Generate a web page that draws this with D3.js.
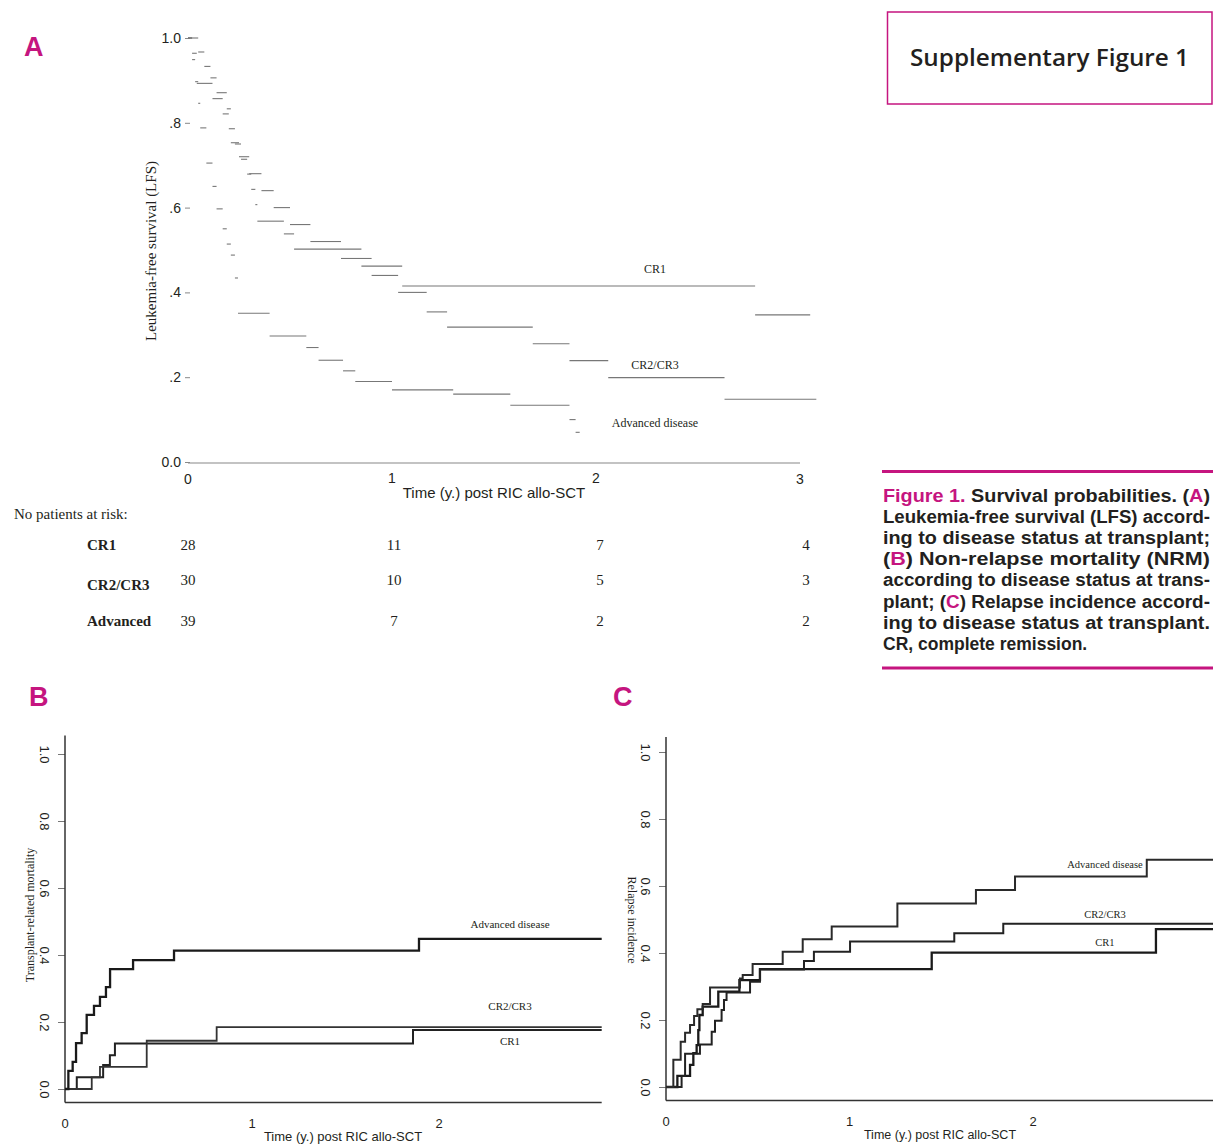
<!DOCTYPE html>
<html>
<head>
<meta charset="utf-8">
<script src="https://cdn.jsdelivr.net/npm/d3@7/dist/d3.min.js"></script>
<style>
  body { margin: 0; background: #fff; }
</style>
</head>
<body>
<div id="fig"></div>
<script>
// groups and axis ticks
var groups = ["CR1", "CR2/CR3", "Advanced"];
var timeTicks = [0, 1, 2, 3];
var lfsTicks = [0, 0.2, 0.4, 0.6, 0.8, 1.0];
var lfsTickLabels = ["0.0", ".2", ".4", ".6", ".8", "1.0"];
var probTicks = [0, 0.2, 0.4, 0.6, 0.8, 1.0];
var probTickLabels = ["0.0", "0.2", "0.4", "0.6", "0.8", "1.0"];

// patients at risk at 0,1,2,3 years
var atRiskCR1 = [28, 11, 7, 4];
var atRiskCR2 = [30, 10, 5, 3];
var atRiskAdv = [39, 7, 2, 2];

// A: leukemia-free survival, [time, value] at each step
var lfsCR1 = [[0,1],[0.02,0.964],[0.043,0.893],[0.12,0.857],[0.17,0.821],[0.2,0.786],[0.23,0.75],[0.26,0.714],
  [0.29,0.679],[0.31,0.643],[0.33,0.607],[0.34,0.568],[0.47,0.538],[0.52,0.502],[0.85,0.462],[1.05,0.415],[2.78,0.347]];
var lfsCR2 = [[0,1],[0.05,0.967],[0.08,0.933],[0.11,0.906],[0.14,0.871],[0.19,0.833],[0.21,0.753],[0.25,0.72],
  [0.3,0.68],[0.36,0.64],[0.42,0.6],[0.5,0.56],[0.6,0.52],[0.75,0.48],[0.9,0.44],[1.03,0.40],[1.17,0.354],
  [1.27,0.318],[1.69,0.279],[1.87,0.239],[2.06,0.199],[2.63,0.148]];
var lfsAdv = [[0,1],[0.02,0.949],[0.035,0.897],[0.05,0.846],[0.06,0.788],[0.09,0.705],[0.12,0.65],[0.14,0.597],
  [0.17,0.55],[0.19,0.514],[0.21,0.488],[0.23,0.434],[0.245,0.351],[0.40,0.297],[0.58,0.27],[0.64,0.24],
  [0.76,0.215],[0.82,0.19],[1.0,0.17],[1.3,0.16],[1.58,0.134],[1.87,0.10],[1.9,0.07]];
var lfsEnd = [3.05, 3.08, 1.92];

// B: non-relapse (transplant-related) mortality
var nrmCR1 = [[0,0],[0.063,0.035],[0.204,0.072],[0.24,0.101],[0.267,0.136],[1.861,0.176]];
var nrmCR2 = [[0,0],[0.143,0.035],[0.187,0.066],[0.437,0.144],[0.811,0.185]];
var nrmAdv = [[0,0],[0.018,0.054],[0.041,0.081],[0.059,0.137],[0.089,0.167],[0.116,0.221],[0.155,0.248],
  [0.187,0.275],[0.219,0.304],[0.241,0.358],[0.364,0.385],[0.583,0.413],[1.893,0.448]];
var nrmEnd = 2.87;

// C: relapse incidence
var relCR1 = [[0,0],[0.062,0.033],[0.131,0.066],[0.149,0.101],[0.167,0.125],[0.176,0.170],[0.182,0.215],
  [0.200,0.240],[0.285,0.285],[0.400,0.319],[0.512,0.352],[1.448,0.401],[2.67,0.471]];
var relCR2 = [[0,0],[0.085,0.033],[0.104,0.099],[0.185,0.127],[0.249,0.165],[0.267,0.198],[0.303,0.230],
  [0.316,0.260],[0.330,0.282],[0.458,0.314],[0.512,0.351],[0.752,0.376],[0.806,0.404],[1.003,0.434],
  [1.571,0.459],[1.838,0.487]];
var relAdv = [[0,0],[0.040,0.081],[0.080,0.135],[0.104,0.162],[0.131,0.185],[0.153,0.212],[0.171,0.232],
  [0.200,0.248],[0.240,0.297],[0.403,0.324],[0.418,0.334],[0.472,0.367],[0.636,0.404],[0.745,0.441],
  [0.903,0.479],[1.261,0.548],[1.689,0.588],[1.902,0.628],[2.62,0.678]];
var relEnd = 3.0;

var captionLines = [
  [["Figure 1.", 1], [" Survival probabilities. (", 0], ["A", 1], [")", 0]],
  [["Leukemia-free survival (LFS) accord-", 0]],
  [["ing to disease status at transplant;", 0]],
  [["(", 0], ["B", 1], [") Non-relapse mortality (NRM)", 0]],
  [["according to disease status at trans-", 0]],
  [["plant; (", 0], ["C", 1], [") Relapse incidence accord-", 0]],
  [["ing to disease status at transplant.", 0]],
  [["CR, complete remission.", 0]]
];

var magenta = "#c5157f";
var ink = "#231f20";
var serif = "'Liberation Serif', 'DejaVu Serif', serif";
var sans = "'Liberation Sans', Arial, sans-serif";
var caps = "'Open Sans', 'Liberation Sans', sans-serif";

var svg = d3.select("#fig").append("svg")
  .attr("width", 1213)
  .attr("height", 1146)
  .style("display", "block");

// ---------- panel letters ----------
[["A", 24, 56], ["B", 29, 706], ["C", 613, 706]].forEach(function(p) {
  svg.append("text").attr("x", p[1]).attr("y", p[2])
    .attr("font-family", sans).attr("font-weight", "bold").attr("font-size", 27)
    .attr("fill", magenta).text(p[0]);
});

// ---------- title box ----------
svg.append("rect").attr("x", 887.5).attr("y", 12).attr("width", 324.5).attr("height", 92)
  .attr("fill", "none").attr("stroke", magenta).attr("stroke-width", 1.5);
svg.append("text").attr("x", 910).attr("y", 66)
  .attr("textLength", 279).attr("lengthAdjust", "spacingAndGlyphs")
  .attr("font-family", caps).attr("font-weight", 600).attr("font-size", 24)
  .attr("fill", ink).text("Supplementary Figure 1");

// ---------- caption ----------
svg.append("rect").attr("x", 882).attr("y", 470).attr("width", 331).attr("height", 3).attr("fill", magenta);
svg.append("rect").attr("x", 882).attr("y", 666.5).attr("width", 331).attr("height", 3).attr("fill", magenta);
captionLines.forEach(function(line, i) {
  var t = svg.append("text").attr("x", 883).attr("y", 502 + i * 21.1)
    .attr("font-family", sans).attr("font-weight", "bold").attr("font-size", 17.5).attr("fill", ink);
  if (i < captionLines.length - 1) {
    t.attr("textLength", 327).attr("lengthAdjust", "spacingAndGlyphs");
  }
  line.forEach(function(part) {
    t.append("tspan").attr("fill", part[1] ? magenta : ink).text(part[0]);
  });
});

// ---------- panel A ----------
var xA = d3.scaleLinear().domain([0, 3]).range([188, 800]);
var yA = d3.scaleLinear().domain([0, 1]).range([462, 38]);

var gA = svg.append("g");
var axA = gA.append("g").attr("transform", "translate(190,0)")
  .call(d3.axisLeft(yA).tickValues(lfsTicks).tickSize(5).tickPadding(4)
    .tickFormat(function(d, i) { return lfsTickLabels[i]; }));
axA.select(".domain").remove();
axA.selectAll("line").attr("stroke", "#888");
axA.selectAll("text").attr("font-family", sans).attr("font-size", 14).attr("fill", ink);

gA.append("line").attr("x1", xA(0)).attr("x2", xA(3)).attr("y1", 463).attr("y2", 463)
  .attr("stroke", "#888").attr("stroke-width", 1.2);
gA.selectAll(".xtA").data(timeTicks).enter().append("text")
  .attr("x", function(d) { return xA(d); })
  .attr("y", function(d) { return (d === 1 || d === 2) ? 483 : 484; })
  .attr("text-anchor", "middle").attr("font-family", sans).attr("font-size", 14).attr("fill", ink)
  .text(function(d) { return d; });
gA.append("text").attr("x", 494).attr("y", 498).attr("text-anchor", "middle")
  .attr("font-family", sans).attr("font-size", 15).attr("fill", ink).text("Time (y.) post RIC allo-SCT");
gA.append("text").attr("transform", "translate(156,251) rotate(-90)").attr("text-anchor", "middle")
  .attr("font-family", serif).attr("font-size", 15).attr("fill", ink).text("Leukemia-free survival (LFS)");

// faded scan: only the flat parts of each step survive
[lfsCR1, lfsCR2, lfsAdv].forEach(function(curve, k) {
  var segs = curve.map(function(p, i) {
    var next = i < curve.length - 1 ? curve[i + 1][0] : lfsEnd[k];
    return { t0: p[0], t1: next, v: p[1] };
  });
  gA.selectAll(".segA" + k).data(segs).enter().append("line")
    .attr("x1", function(d) { return xA(d.t0); })
    .attr("x2", function(d) { return xA(d.t1); })
    .attr("y1", function(d) { return yA(d.v); })
    .attr("y2", function(d) { return yA(d.v); })
    .attr("stroke", "#777").attr("stroke-width", 1.1);
});

[["CR1", 269], ["CR2/CR3", 365], ["Advanced disease", 423]].forEach(function(l) {
  gA.append("text").attr("x", 655).attr("y", l[1] + 4).attr("text-anchor", "middle")
    .attr("font-family", serif).attr("font-size", 12).attr("fill", ink).text(l[0]);
});

// at-risk table
gA.append("text").attr("x", 14).attr("y", 519).attr("font-family", serif).attr("font-size", 15)
  .attr("fill", ink).text("No patients at risk:");
var riskRows = [atRiskCR1, atRiskCR2, atRiskAdv];
var rowLabelY = [550, 590, 626];
var rowNumY = [550, 585, 626];
var rowLabels = ["CR1", "CR2/CR3", "Advanced"];
riskRows.forEach(function(row, r) {
  gA.append("text").attr("x", 87).attr("y", rowLabelY[r]).attr("font-family", serif)
    .attr("font-weight", "bold").attr("font-size", 15).attr("fill", ink).text(rowLabels[r]);
  gA.selectAll(".risk" + r).data(row).enter().append("text")
    .attr("x", function(d, i) { return xA(timeTicks[i]) + 2 * i; })
    .attr("y", rowNumY[r]).attr("text-anchor", "middle")
    .attr("font-family", serif).attr("font-size", 15).attr("fill", ink)
    .text(function(d) { return d; });
});

// ---------- panels B and C ----------
function cumPanel(opt) {
  var x = d3.scaleLinear().domain([0, 1]).range([opt.x0, opt.x0 + opt.perYear]);
  var y = d3.scaleLinear().domain([0, 1]).range([opt.y0, opt.y0 - 335]);
  var g = svg.append("g");

  var ax = g.append("g").attr("transform", "translate(" + opt.x0 + ",0)")
    .call(d3.axisLeft(y).tickValues(probTicks).tickSize(7)
      .tickFormat(function(d, i) { return probTickLabels[i]; }));
  ax.select(".domain").remove();
  ax.selectAll("line").attr("stroke", "#777");
  ax.selectAll("text").attr("x", null).attr("dy", null)
    .attr("transform", "translate(-20,0) rotate(90)")
    .attr("text-anchor", "middle").attr("dy", "0.35em")
    .attr("font-family", sans).attr("font-size", 13).attr("fill", ink);

  // axis lines
  g.append("line").attr("x1", opt.x0).attr("x2", opt.x0)
    .attr("y1", y(opt.yTop)).attr("y2", y(-0.04))
    .attr("stroke", "#333").attr("stroke-width", 1.5);
  g.append("line").attr("x1", opt.x0).attr("x2", x(opt.end))
    .attr("y1", y(-0.04)).attr("y2", y(-0.04))
    .attr("stroke", "#333").attr("stroke-width", 1.5);

  g.selectAll(".xt").data(timeTicks.slice(0, 3)).enter().append("text")
    .attr("x", function(d) { return x(d); })
    .attr("y", opt.tickY).attr("text-anchor", "middle")
    .attr("font-family", sans).attr("font-size", 13).attr("fill", ink)
    .text(function(d) { return d; });
  g.append("text").attr("x", opt.titleX).attr("y", opt.tickY + 13).attr("text-anchor", "middle")
    .attr("font-family", sans).attr("font-size", opt.titleSize).attr("fill", ink)
    .text("Time (y.) post RIC allo-SCT");

  g.append("text").attr("transform", "translate(" + opt.yTitleX + "," + opt.yTitleY + ") rotate(" + opt.yTitleRot + ")")
    .attr("text-anchor", "middle").attr("dy", "0.35em")
    .attr("font-family", serif).attr("font-size", 12).attr("fill", ink).text(opt.yTitle);

  var line = d3.line()
    .x(function(d) { return x(d[0]); })
    .y(function(d) { return y(d[1]); })
    .curve(d3.curveStepAfter);

  opt.curves.forEach(function(c, k) {
    var pts = c.concat([[opt.end, c[c.length - 1][1]]]);
    g.append("path").datum(pts)
      .attr("fill", "none").attr("stroke", opt.colors[k])
      .attr("stroke-width", opt.widths[k]).attr("d", line);
  });

  opt.labels.forEach(function(l) {
    g.append("text").attr("x", l[1]).attr("y", l[2]).attr("text-anchor", "middle")
      .attr("font-family", serif).attr("font-size", opt.labelSize).attr("fill", ink).text(l[0]);
  });
}

cumPanel({
  x0: 65, perYear: 187, y0: 1089, end: nrmEnd, yTop: 1.055,
  tickY: 1128, titleX: 343, titleSize: 13,
  yTitle: "Transplant-related mortality", yTitleX: 30, yTitleY: 915, yTitleRot: -90,
  curves: [nrmCR1, nrmCR2, nrmAdv],
  colors: ["#222", "#333", "#1a1a1a"], widths: [2, 1.8, 2.3],
  labels: [["Advanced disease", 510, 928], ["CR2/CR3", 510, 1010], ["CR1", 510, 1045]],
  labelSize: 11
});

cumPanel({
  x0: 666, perYear: 183.5, y0: 1087, end: relEnd, yTop: 1.045,
  tickY: 1126, titleX: 940, titleSize: 12.5,
  yTitle: "Relapse incidence", yTitleX: 632, yTitleY: 920, yTitleRot: 90,
  curves: [relCR1, relCR2, relAdv],
  colors: ["#1a1a1a", "#222", "#2a2a2a"], widths: [2.3, 2, 2],
  labels: [["Advanced disease", 1105, 868], ["CR2/CR3", 1105, 918], ["CR1", 1105, 946]],
  labelSize: 10.5
});
</script>
</body>
</html>
